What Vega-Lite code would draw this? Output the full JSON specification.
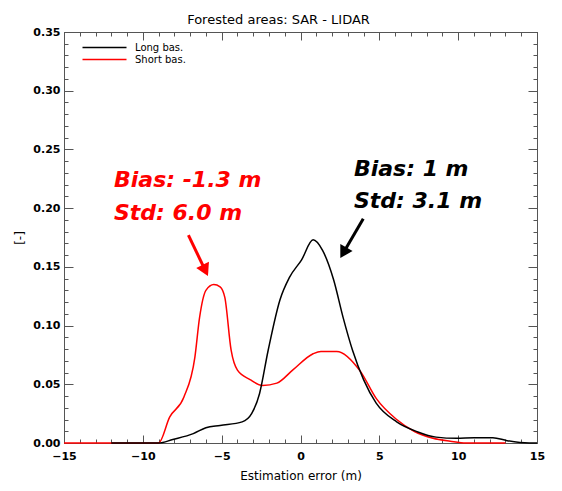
{
  "$schema": "https://vega.github.io/schema/vega-lite/v6.json",
  "width": 473,
  "height": 411,
  "autosize": "none",
  "padding": {"left": 64, "top": 32, "right": 25, "bottom": 48},
  "background": "white",
  "title": {"text": "Forested areas: SAR - LIDAR", "font": "DejaVu Sans", "fontSize": 13, "fontWeight": "normal", "color": "black", "offset": -1, "dx": -22},
  "datasets": {
    "curves": [
      {"series": "Short bas.", "x": -15, "y": 0},
      {"series": "Short bas.", "x": -12, "y": 0},
      {"series": "Short bas.", "x": -9.0, "y": 0},
      {"series": "Short bas.", "x": -8.3, "y": 0.022},
      {"series": "Short bas.", "x": -7.4, "y": 0.039},
      {"series": "Short bas.", "x": -6.7, "y": 0.073},
      {"series": "Short bas.", "x": -6.4, "y": 0.107},
      {"series": "Short bas.", "x": -6.0, "y": 0.130},
      {"series": "Short bas.", "x": -5.5, "y": 0.135},
      {"series": "Short bas.", "x": -5.1, "y": 0.133},
      {"series": "Short bas.", "x": -4.8, "y": 0.124},
      {"series": "Short bas.", "x": -4.4, "y": 0.079},
      {"series": "Short bas.", "x": -4.0, "y": 0.062},
      {"series": "Short bas.", "x": -3.2, "y": 0.054},
      {"series": "Short bas.", "x": -2.4, "y": 0.049},
      {"series": "Short bas.", "x": -1.5, "y": 0.051},
      {"series": "Short bas.", "x": -0.5, "y": 0.062},
      {"series": "Short bas.", "x": 0.8, "y": 0.076},
      {"series": "Short bas.", "x": 1.3, "y": 0.078},
      {"series": "Short bas.", "x": 2.3, "y": 0.078},
      {"series": "Short bas.", "x": 3.8, "y": 0.061},
      {"series": "Short bas.", "x": 4.8, "y": 0.038},
      {"series": "Short bas.", "x": 6.1, "y": 0.020},
      {"series": "Short bas.", "x": 7.2, "y": 0.010},
      {"series": "Short bas.", "x": 8.4, "y": 0.004},
      {"series": "Short bas.", "x": 9.5, "y": 0.0015},
      {"series": "Short bas.", "x": 10.5, "y": 0},
      {"series": "Short bas.", "x": 13, "y": 0},
      {"series": "Long bas.", "x": -12, "y": 0},
      {"series": "Long bas.", "x": -9.0, "y": 0},
      {"series": "Long bas.", "x": -8.1, "y": 0.003},
      {"series": "Long bas.", "x": -6.8, "y": 0.008},
      {"series": "Long bas.", "x": -6.0, "y": 0.013},
      {"series": "Long bas.", "x": -5.1, "y": 0.015},
      {"series": "Long bas.", "x": -3.7, "y": 0.018},
      {"series": "Long bas.", "x": -3.1, "y": 0.025},
      {"series": "Long bas.", "x": -2.6, "y": 0.042},
      {"series": "Long bas.", "x": -2.05, "y": 0.079},
      {"series": "Long bas.", "x": -1.3, "y": 0.122},
      {"series": "Long bas.", "x": -0.7, "y": 0.141},
      {"series": "Long bas.", "x": 0.07, "y": 0.156},
      {"series": "Long bas.", "x": 0.8, "y": 0.173},
      {"series": "Long bas.", "x": 1.4, "y": 0.164},
      {"series": "Long bas.", "x": 2.1, "y": 0.139},
      {"series": "Long bas.", "x": 2.7, "y": 0.107},
      {"series": "Long bas.", "x": 3.3, "y": 0.079},
      {"series": "Long bas.", "x": 4.0, "y": 0.054},
      {"series": "Long bas.", "x": 4.8, "y": 0.034},
      {"series": "Long bas.", "x": 6.1, "y": 0.018},
      {"series": "Long bas.", "x": 7.4, "y": 0.0096},
      {"series": "Long bas.", "x": 8.6, "y": 0.005},
      {"series": "Long bas.", "x": 9.9, "y": 0.004},
      {"series": "Long bas.", "x": 11.0, "y": 0.0045},
      {"series": "Long bas.", "x": 12.2, "y": 0.0045},
      {"series": "Long bas.", "x": 13.1, "y": 0.002},
      {"series": "Long bas.", "x": 14.5, "y": 0},
      {"series": "Long bas.", "x": 15, "y": 0}
    ],
    "labels": [
      {"series": "Short bas.", "x": -11.83, "y": 0.2177, "label": "Bias: -1.3 m"},
      {"series": "Short bas.", "x": -11.83, "y": 0.190, "label": "Std: 6.0 m"},
      {"series": "Long bas.", "x": 3.39, "y": 0.227, "label": "Bias: 1 m"},
      {"series": "Long bas.", "x": 3.39, "y": 0.2004, "label": "Std: 3.1 m"}
    ],
    "arrows": [
      {"series": "Short bas.", "x": -7.11, "y": 0.177, "x2": -6.04, "y2": 0.147},
      {"series": "Long bas.", "x": 3.98, "y": 0.191, "x2": 2.72, "y2": 0.162}
    ],
    "redhead": [{"series": "Short bas.", "x": -6.04, "y": 0.147}],
    "blackhead": [{"series": "Long bas.", "x": 2.72, "y": 0.162}]
  },
  "layer": [
    {
      "data": {"name": "curves"},
      "mark": {"type": "line", "strokeWidth": 1.5, "interpolate": "monotone"},
      "encoding": {
        "x": {"field": "x", "type": "quantitative",
          "scale": {"domain": [-15, 15], "nice": false, "zero": false},
          "axis": {"orient": "bottom", "title": "Estimation error (m)",
            "values": [-15,-14,-13,-12,-11,-10,-9,-8,-7,-6,-5,-4,-3,-2,-1,0,1,2,3,4,5,6,7,8,9,10,11,12,13,14,15],
            "tickSize": {"expr": "datum.value % 5 === 0 ? -8 : -4"},
            "labelExpr": "datum.value % 5 === 0 ? format(datum.value, 'd') : ''",
            "labelOverlap": false, "labelFlush": false, "grid": false,
            "labelFont": "DejaVu Sans", "labelFontSize": 11, "labelFontWeight": "bold", "labelColor": "black", "labelPadding": 15,
            "titleFont": "DejaVu Sans", "titleFontSize": 12, "titleFontWeight": "normal", "titleColor": "black", "titlePadding": 5,
            "domainColor": "#555", "tickColor": "#555"}},
        "y": {"field": "y", "type": "quantitative",
          "scale": {"domain": [0, 0.35], "nice": false},
          "axis": {"orient": "left", "title": "[-]",
            "values": [0,0.01,0.02,0.03,0.04,0.05,0.06,0.07,0.08,0.09,0.1,0.11,0.12,0.13,0.14,0.15,0.16,0.17,0.18,0.19,0.2,0.21,0.22,0.23,0.24,0.25,0.26,0.27,0.28,0.29,0.3,0.31,0.32,0.33,0.34,0.35],
            "tickSize": {"expr": "round(datum.value * 100) % 5 === 0 ? -9 : -4"},
            "labelExpr": "round(datum.value * 100) % 5 === 0 ? format(datum.value, '.2f') : ''",
            "labelOverlap": false, "labelFlush": false, "grid": false,
            "labelFont": "DejaVu Sans", "labelFontSize": 11, "labelFontWeight": "bold", "labelColor": "black", "labelPadding": 13,
            "titleFont": "DejaVu Sans", "titleFontSize": 12, "titleFontWeight": "normal", "titleColor": "black", "titlePadding": 6,
            "domainColor": "#555", "tickColor": "#555"}},
        "color": {"field": "series", "type": "nominal",
          "scale": {"domain": ["Long bas.", "Short bas."], "range": ["#000000", "#ff0000"]},
          "legend": {"orient": "none", "legendX": 34, "legendY": 9, "title": null,
            "symbolType": "M-4,0H4", "symbolSize": 121, "symbolStrokeWidth": 1.5,
            "labelFont": "DejaVu Sans", "labelFontSize": 10, "labelColor": "black",
            "labelOffset": 24, "rowPadding": -1, "padding": 0}},
        "order": {"field": "x", "type": "quantitative"}
      }
    },
    {
      "data": {"name": "arrows"},
      "mark": {"type": "rule", "strokeWidth": 3},
      "encoding": {
        "x": {"field": "x", "type": "quantitative",
          "axis": {"orient": "top", "title": null, "labels": false,
            "values": [-15,-14,-13,-12,-11,-10,-9,-8,-7,-6,-5,-4,-3,-2,-1,0,1,2,3,4,5,6,7,8,9,10,11,12,13,14,15],
            "tickSize": {"expr": "datum.value % 5 === 0 ? -8 : -4"},
            "grid": false, "domainColor": "#555", "tickColor": "#555"}},
        "y": {"field": "y", "type": "quantitative",
          "axis": {"orient": "right", "title": null, "labels": false,
            "values": [0,0.01,0.02,0.03,0.04,0.05,0.06,0.07,0.08,0.09,0.1,0.11,0.12,0.13,0.14,0.15,0.16,0.17,0.18,0.19,0.2,0.21,0.22,0.23,0.24,0.25,0.26,0.27,0.28,0.29,0.3,0.31,0.32,0.33,0.34,0.35],
            "tickSize": {"expr": "round(datum.value * 100) % 5 === 0 ? -9 : -4"},
            "grid": false, "domainColor": "#555", "tickColor": "#555"}},
        "x2": {"field": "x2"},
        "y2": {"field": "y2"},
        "color": {"field": "series", "type": "nominal", "legend": null}
      }
    },
    {
      "data": {"name": "redhead"},
      "mark": {"type": "point", "shape": "triangle-up", "filled": true, "size": 200, "angle": 154, "opacity": 1},
      "encoding": {
        "x": {"field": "x", "type": "quantitative", "axis": null},
        "y": {"field": "y", "type": "quantitative", "axis": null},
        "color": {"field": "series", "type": "nominal", "legend": null}
      }
    },
    {
      "data": {"name": "blackhead"},
      "mark": {"type": "point", "shape": "triangle-up", "filled": true, "size": 200, "angle": 210, "opacity": 1},
      "encoding": {
        "x": {"field": "x", "type": "quantitative", "axis": null},
        "y": {"field": "y", "type": "quantitative", "axis": null},
        "color": {"field": "series", "type": "nominal", "legend": null}
      }
    },
    {
      "data": {"name": "labels"},
      "mark": {"type": "text", "align": "left", "baseline": "alphabetic", "font": "DejaVu Sans", "fontSize": 22, "fontWeight": "bold", "fontStyle": "italic"},
      "encoding": {
        "x": {"field": "x", "type": "quantitative", "axis": null},
        "y": {"field": "y", "type": "quantitative", "axis": null},
        "text": {"field": "label"},
        "color": {"field": "series", "type": "nominal", "legend": null}
      }
    }
  ],
  "resolve": {"axis": {"x": "independent", "y": "independent"}},
  "config": {"view": {"stroke": "#555"}}
}
